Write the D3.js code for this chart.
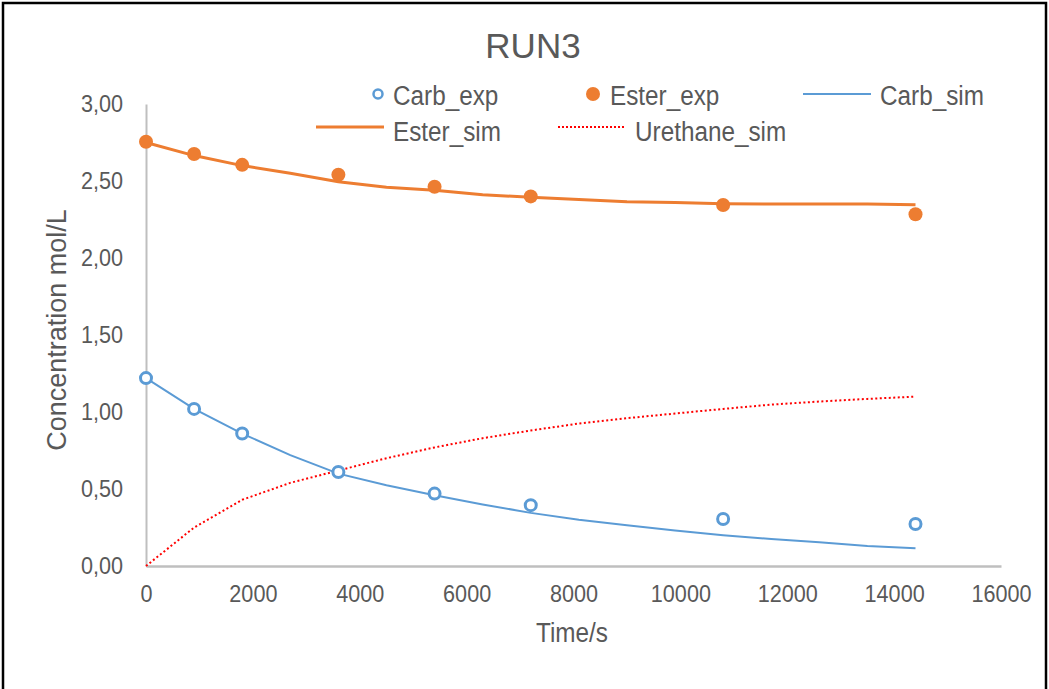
<!DOCTYPE html>
<html>
<head>
<meta charset="utf-8">
<script src="https://cdn.jsdelivr.net/npm/d3@7"></script>
<style>
  body { margin: 0; background: #fff; }
  text { font-family: "Liberation Sans", Arial, sans-serif; fill: #595959; }
</style>
</head>
<body>
<svg id="chart" width="1049" height="689"></svg>
<script>
// experimental points
const expTime = [0, 900, 1800, 3600, 5400, 7200, 10800, 14400];
const carbExp = [1.22, 1.02, 0.86, 0.61, 0.47, 0.395, 0.305, 0.273];
const esterExp = [2.755, 2.675, 2.605, 2.541, 2.463, 2.40, 2.344, 2.284];

// simulated curves
const simTime = [0, 900, 1800, 2700, 3600, 4500, 5400, 6300, 7200, 8100, 9000, 9900, 10800, 11700, 12600, 13500, 14400];
const carbSim = [1.22, 1.02, 0.86, 0.72, 0.60, 0.525, 0.46, 0.40, 0.345, 0.30, 0.265, 0.23, 0.20, 0.175, 0.155, 0.13, 0.115];
const esterSim = [2.75, 2.665, 2.60, 2.55, 2.495, 2.46, 2.44, 2.41, 2.395, 2.38, 2.365, 2.36, 2.353, 2.35, 2.35, 2.35, 2.345];
const urethaneSim = [0, 0.25, 0.43, 0.54, 0.62, 0.70, 0.77, 0.83, 0.88, 0.925, 0.96, 0.99, 1.02, 1.048, 1.068, 1.085, 1.10];

const xTicks = [0, 2000, 4000, 6000, 8000, 10000, 12000, 14000, 16000];
const yTicks = [0, 0.5, 1, 1.5, 2, 2.5, 3];

const blue = '#5b9bd5', orange = '#ed7d31', red = '#ff0000', axisGrey = '#bfbfbf';
const narrow = 0.9; // the reference text is a bit condensed

const svg = d3.select('#chart');

// outer frame
svg.append('rect')
  .attr('x', 3).attr('y', 3).attr('width', 1043).attr('height', 700)
  .attr('fill', 'none').attr('stroke', '#000').attr('stroke-width', 2.5);

const x = d3.scaleLinear().domain([0, 16000]).range([146, 1001]);
const y = d3.scaleLinear().domain([0, 3]).range([566, 104]);

// condensed text helper
function label (parent, tx, ty, str, size, anchor) {
  return parent.append('g')
    .attr('transform', `translate(${tx},${ty}) scale(${narrow},1)`)
    .append('text')
    .attr('text-anchor', anchor || 'start')
    .style('font-size', size + 'px')
    .text(str);
}

// y axis
const yAxis = svg.append('g')
  .attr('transform', 'translate(146,0)')
  .call(d3.axisLeft(y).tickValues(yTicks).tickSize(0).tickPadding(0)
    .tickFormat(d => d3.format('.2f')(d).replace('.', ',')));
yAxis.select('.domain').attr('stroke', axisGrey).attr('stroke-width', 2);
yAxis.selectAll('.tick text')
  .attr('x', 0)
  .attr('transform', `translate(-23,0) scale(${narrow},1)`)
  .style('font-size', '24px').attr('fill', '#595959');

// x axis
const xAxis = svg.append('g')
  .attr('transform', 'translate(0,566)')
  .call(d3.axisBottom(x).tickValues(xTicks).tickSize(0).tickPadding(19)
    .tickFormat(d3.format('d')));
xAxis.select('.domain').attr('stroke', axisGrey).attr('stroke-width', 2.5);
xAxis.selectAll('.tick text')
  .attr('transform', `scale(${narrow},1)`)
  .style('font-size', '24px').attr('fill', '#595959');

// titles
svg.append('text').attr('x', 533).attr('y', 58)
  .attr('text-anchor', 'middle').style('font-size', '35px').text('RUN3');
label(svg, 572, 642, 'Time/s', 27, 'middle');
svg.append('text')
  .attr('transform', 'translate(66,330) rotate(-90)')
  .attr('text-anchor', 'middle').style('font-size', '27px').text('Concentration mol/L');

// simulated lines
const line = vals => d3.line().x((d, i) => x(simTime[i])).y(d => y(d))(vals);

svg.append('path').attr('d', line(esterSim))
  .attr('fill', 'none').attr('stroke', orange).attr('stroke-width', 3);
svg.append('path').attr('d', line(carbSim))
  .attr('fill', 'none').attr('stroke', blue).attr('stroke-width', 2);
svg.append('path').attr('d', line(urethaneSim))
  .attr('fill', 'none').attr('stroke', red).attr('stroke-width', 2)
  .attr('stroke-dasharray', '2,2.5');

// experimental markers
svg.append('g').selectAll('circle').data(esterExp).join('circle')
  .attr('cx', (d, i) => x(expTime[i])).attr('cy', d => y(d))
  .attr('r', 7).attr('fill', orange);
svg.append('g').selectAll('circle').data(carbExp).join('circle')
  .attr('cx', (d, i) => x(expTime[i])).attr('cy', d => y(d))
  .attr('r', 5.5).attr('fill', '#fff').attr('stroke', blue).attr('stroke-width', 3);

// legend
const legend = svg.append('g');
const legendItems = [
  { name: 'Carb_exp', kind: 'open', x: 378, y: 94 },
  { name: 'Ester_exp', kind: 'dot', x: 593, y: 94 },
  { name: 'Carb_sim', kind: 'line', x: 803, y: 94 },
  { name: 'Ester_sim', kind: 'thick', x: 316, y: 127 },
  { name: 'Urethane_sim', kind: 'dots', x: 558, y: 127 }
];
legendItems.forEach(it => {
  let tx;
  if (it.kind === 'open') {
    legend.append('circle').attr('cx', it.x).attr('cy', it.y).attr('r', 4.5)
      .attr('fill', '#fff').attr('stroke', blue).attr('stroke-width', 2.5);
    tx = it.x + 15;
  } else if (it.kind === 'dot') {
    legend.append('circle').attr('cx', it.x).attr('cy', it.y).attr('r', 7).attr('fill', orange);
    tx = it.x + 17;
  } else {
    const col = it.kind === 'line' ? blue : it.kind === 'thick' ? orange : red;
    legend.append('line').attr('x1', it.x).attr('x2', it.x + 68)
      .attr('y1', it.y).attr('y2', it.y)
      .attr('stroke', col)
      .attr('stroke-width', it.kind === 'thick' ? 3 : 2)
      .attr('stroke-dasharray', it.kind === 'dots' ? '2,2' : null);
    tx = it.x + 77;
  }
  label(legend, tx, it.y + (it.y < 100 ? 11 : 14), it.name, 27);
});
</script>
</body>
</html>
